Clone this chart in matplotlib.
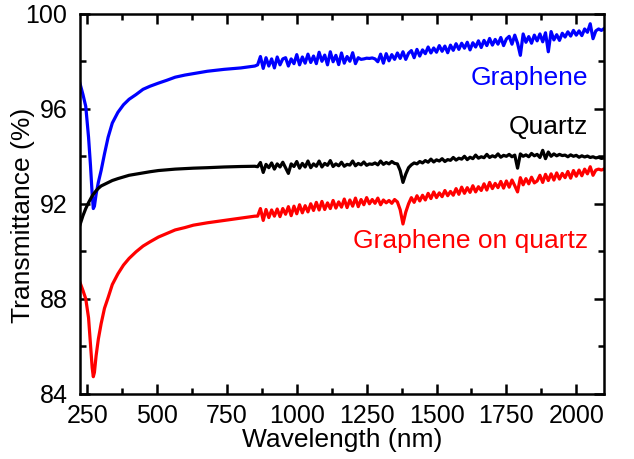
import matplotlib
matplotlib.use("Agg")
import matplotlib.pyplot as plt
from matplotlib.ticker import MultipleLocator

plt.rcParams['font.family'] = ['Liberation Sans', 'DejaVu Sans']

# smooth UV/visible part
wl_vis = [224, 235, 245, 255, 262, 268, 272, 276, 282, 290, 300, 312, 325, 340,
          360, 380, 400, 425, 450, 475, 505, 535, 565, 600, 630, 680, 740, 800, 850]
graphene_vis = [97.08, 96.60, 96.10, 94.80, 93.60, 92.40, 91.80, 91.90, 92.40, 92.90,
                93.40, 94.10, 94.80, 95.40, 95.85, 96.17, 96.40, 96.60, 96.82, 96.95,
                97.08, 97.20, 97.33, 97.42, 97.48, 97.58, 97.66, 97.72, 97.80]
quartz_vis = [91.10, 91.50, 91.80, 92.05, 92.20, 92.33, 92.40, 92.46, 92.55, 92.65,
              92.75, 92.82, 92.90, 92.98, 93.06, 93.13, 93.20, 93.25, 93.30, 93.35,
              93.40, 93.43, 93.46, 93.48, 93.50, 93.52, 93.55, 93.57, 93.58]
gq_vis = [88.70, 88.35, 88.00, 87.20, 86.10, 85.10, 84.72, 84.90, 85.60, 86.30,
          86.95, 87.60, 88.05, 88.60, 89.05, 89.42, 89.70, 89.98, 90.22, 90.40,
          90.60, 90.75, 90.90, 91.00, 91.10, 91.20, 91.30, 91.40, 91.48]

# noisy NIR part (second detector), one reading every 10 nm
wl_nir = [860, 870, 880, 890, 900, 910, 920, 930, 940, 950,
          960, 970, 980, 990, 1000, 1010, 1020, 1030, 1040, 1050,
          1060, 1070, 1080, 1090, 1100, 1110, 1120, 1130, 1140, 1150,
          1160, 1170, 1180, 1190, 1200, 1210, 1220, 1230, 1240, 1250,
          1260, 1270, 1280, 1290, 1300, 1310, 1320, 1330, 1340, 1350,
          1360, 1370, 1380, 1390, 1400, 1410, 1420, 1430, 1440, 1450,
          1460, 1470, 1480, 1490, 1500, 1510, 1520, 1530, 1540, 1550,
          1560, 1570, 1580, 1590, 1600, 1610, 1620, 1630, 1640, 1650,
          1660, 1670, 1680, 1690, 1700, 1710, 1720, 1730, 1740, 1750,
          1760, 1770, 1780, 1790, 1800, 1810, 1820, 1830, 1840, 1850,
          1860, 1870, 1880, 1890, 1900, 1910, 1920, 1930, 1940, 1950,
          1960, 1970, 1980, 1990, 2000, 2010, 2020, 2030, 2040, 2050,
          2060, 2070, 2080, 2090, 2100]
graphene_nir = [97.85, 98.20, 97.70, 98.15, 97.80, 98.10, 97.72, 98.18, 97.85, 98.10,
                98.15, 97.80, 98.10, 97.90, 98.28, 97.85, 98.18, 97.92, 98.30, 97.95,
                98.22, 97.90, 98.38, 98.00, 98.26, 97.85, 98.40, 97.98, 98.25, 97.86,
                98.35, 97.92, 98.20, 98.00, 98.36, 97.90, 98.15, 98.08, 98.10, 98.13,
                98.12, 98.14, 98.10, 97.98, 98.30, 97.92, 98.32, 98.02, 98.28, 98.08,
                98.35, 98.12, 98.40, 98.08, 98.34, 98.45, 98.15, 98.50, 98.22, 98.48,
                98.32, 98.60, 98.35, 98.56, 98.38, 98.66, 98.42, 98.64, 98.36, 98.68,
                98.46, 98.74, 98.50, 98.76, 98.55, 98.80, 98.48, 98.78, 98.60, 98.86,
                98.58, 98.88, 98.66, 98.96, 98.68, 98.92, 98.72, 99.00, 98.66, 98.94,
                99.05, 98.72, 99.10, 98.76, 98.25, 99.15, 98.80, 99.04, 98.76, 99.10,
                98.86, 99.15, 98.82, 99.20, 98.40, 99.25, 98.90, 99.12, 98.88, 99.18,
                99.02, 99.24, 99.06, 99.30, 99.10, 99.28, 99.08, 99.36, 99.22, 99.58,
                98.95, 99.28, 99.36, 99.30, 99.38]
quartz_nir = [93.56, 93.74, 93.32, 93.66, 93.52, 93.72, 93.46, 93.68, 93.55, 93.75,
              93.52, 93.28, 93.68, 93.57, 93.78, 93.50, 93.70, 93.55, 93.80, 93.52,
              93.68, 93.58, 93.80, 93.55, 93.70, 93.62, 93.82, 93.57, 93.68, 93.60,
              93.75, 93.58, 93.66, 93.63, 93.80, 93.60, 93.70, 93.64, 93.76, 93.62,
              93.68, 93.66, 93.72, 93.64, 93.80, 93.66, 93.74, 93.68, 93.78, 93.70,
              93.68, 93.40, 92.90, 93.25, 93.52, 93.64, 93.72, 93.68, 93.78, 93.72,
              93.82, 93.75, 93.88, 93.76, 93.85, 93.80, 93.90, 93.78, 93.86, 93.83,
              93.95, 93.84, 93.92, 93.88, 94.00, 93.86, 93.96, 93.90, 94.05, 93.92,
              93.98, 93.94, 94.08, 93.95, 94.02, 93.97, 94.10, 93.96, 94.04, 94.00,
              94.08, 93.98, 94.05, 93.50, 94.10, 94.00, 94.06, 93.98, 94.12, 94.02,
              94.08, 93.95, 94.25, 93.90, 94.18, 94.00, 94.10, 94.02, 94.08, 94.03,
              94.05, 93.98, 94.06, 94.00, 94.04, 93.96, 94.02, 93.97, 94.01, 93.95,
              93.98, 93.93, 93.96, 93.91, 93.93]
gq_nir = [91.48, 91.80, 91.30, 91.76, 91.42, 91.74, 91.48, 91.78, 91.46, 91.80,
          91.56, 91.88, 91.50, 91.90, 91.58, 91.96, 91.62, 91.92, 91.66, 92.00,
          91.72, 92.06, 91.74, 92.10, 91.76, 92.04, 91.80, 92.14, 91.82, 92.08,
          91.86, 92.20, 91.84, 92.16, 91.90, 92.24, 91.88, 92.18, 91.96, 92.26,
          92.00, 92.18, 92.02, 92.24, 91.96, 92.16, 92.04, 92.14, 92.02, 92.18,
          92.08, 91.75, 91.15, 91.65, 92.00, 92.26, 92.06, 92.34, 92.12, 92.36,
          92.16, 92.44, 92.22, 92.50, 92.26, 92.46, 92.30, 92.56, 92.34, 92.52,
          92.36, 92.64, 92.40, 92.70, 92.44, 92.68, 92.48, 92.76, 92.50, 92.72,
          92.56, 92.84, 92.58, 92.90, 92.64, 92.86, 92.68, 92.94, 92.66, 92.96,
          92.70, 93.00, 92.76, 92.50, 93.10, 92.80, 93.06, 92.84, 93.12, 92.88,
          92.96, 93.20, 92.90, 93.24, 92.98, 93.26, 93.00, 93.30, 93.04, 93.28,
          93.10, 93.36, 93.08, 93.40, 93.16, 93.42, 93.18, 93.46, 93.26, 93.56,
          93.20, 93.42, 93.46, 93.42, 93.47]

wavelength = wl_vis + wl_nir
series = [
    ("Graphene", graphene_vis + graphene_nir, "#0000ff", 97.0),
    ("Quartz", quartz_vis + quartz_nir, "black", 94.95),
    ("Graphene on quartz", gq_vis + gq_nir, "#ff0000", 90.15),
]

fig, ax = plt.subplots(figsize=(6.34, 4.59), dpi=100)
fig.subplots_adjust(left=0.126, right=0.953, bottom=0.142, top=0.97)

for name, vals, color, label_y in series:
    ax.plot(wavelength, vals, color=color, lw=2.3)
    ax.text(2043, label_y, name, color=color, fontsize=19, ha='right', va='baseline')

ax.set_xlim(224, 2100)
ax.set_ylim(84, 100)
ax.xaxis.set_major_locator(MultipleLocator(250))
ax.xaxis.set_minor_locator(MultipleLocator(125))
ax.yaxis.set_major_locator(MultipleLocator(4))
ax.yaxis.set_minor_locator(MultipleLocator(2))

for s in ax.spines.values():
    s.set_linewidth(1.8)
ax.tick_params(which='both', direction='in', top=True, right=True, width=1.8, labelsize=18)
ax.tick_params(which='major', length=7)
ax.tick_params(which='minor', length=4)
ax.tick_params(axis='x', pad=7)
ax.tick_params(axis='y', pad=9)

ax.set_xlabel("Wavelength (nm)", fontsize=19, labelpad=0)
ax.set_ylabel("Transmittance (%)", fontsize=19)
ax.yaxis.set_label_coords(-0.085, 0.47)

fig.savefig("out.png", dpi=100)
